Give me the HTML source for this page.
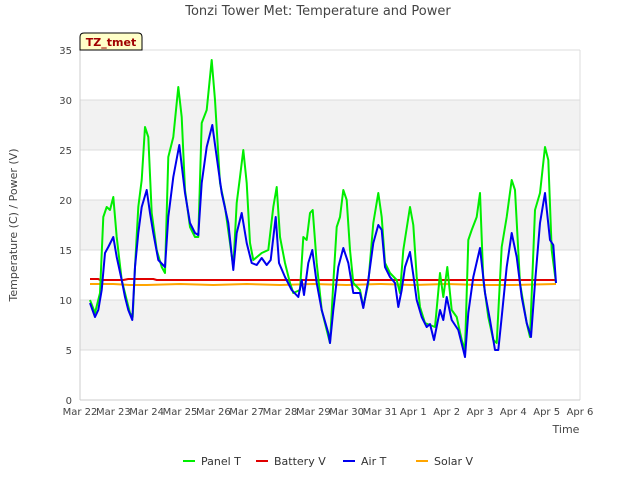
<!DOCTYPE html>
<html><head><meta charset="utf-8"><style>
body{margin:0;background:#fff;font-family:"Liberation Sans","DejaVu Sans",sans-serif}
</style></head><body>
<svg id="chart" width="640" height="480" viewBox="0 0 640 480" xmlns="http://www.w3.org/2000/svg" style="font-family:'DejaVu Sans','Liberation Sans',sans-serif">
<g id="bands"></g><g id="grid"></g><g id="axes"></g><g id="series"></g>
<text x="318" y="15" text-anchor="middle" font-size="13" fill="#444">Tonzi Tower Met: Temperature and Power</text>
<text transform="translate(17,225) rotate(-90)" text-anchor="middle" font-size="11" fill="#444">Temperature (C) / Power (V)</text>
<text x="566" y="433" text-anchor="middle" font-size="11" fill="#444">Time</text>
<g><path d="M80,50 L80,37 Q80,33 84,33 L138,33 Q142,33 142,37 L142,50 Z" fill="#ffffc8" stroke="#000"/><text x="111" y="46" text-anchor="middle" font-size="11" font-weight="bold" fill="#a00000">TZ_tmet</text></g>
<g id="legend"></g>
</svg>
<script>
const yTicks=[0,5,10,15,20,25,30,35];
const xTickLabels=["Mar 22","Mar 23","Mar 24","Mar 25","Mar 26","Mar 27","Mar 28","Mar 29","Mar 30","Mar 31","Apr 1","Apr 2","Apr 3","Apr 4","Apr 5","Apr 6"];
const panelDays=[0.30,0.45,0.60,0.70,0.80,0.90,1.00,1.10,1.25,1.40,1.50,1.58,1.65,1.75,1.85,1.95,2.05,2.15,2.30,2.45,2.55,2.65,2.80,2.95,3.05,3.15,3.30,3.45,3.55,3.65,3.80,3.95,4.05,4.20,4.35,4.50,4.60,4.70,4.80,4.90,5.00,5.10,5.20,5.45,5.65,5.80,5.90,6.00,6.15,6.30,6.40,6.60,6.70,6.80,6.90,6.98,7.10,7.25,7.40,7.50,7.60,7.70,7.80,7.90,8.00,8.10,8.20,8.40,8.50,8.65,8.80,8.95,9.05,9.15,9.30,9.50,9.60,9.70,9.90,10.00,10.10,10.20,10.35,10.50,10.65,10.80,10.90,11.02,11.15,11.30,11.45,11.55,11.65,11.75,11.90,12.00,12.10,12.25,12.40,12.50,12.65,12.80,12.95,13.05,13.20,13.40,13.50,13.65,13.80,13.95,14.05,14.15,14.28];
const panelT=[10,8.7,10.7,18.3,19.3,19,20.3,16.3,12,10,8.7,8.3,13.3,19.3,22,27.3,26.3,18.7,15,13.3,12.7,24.3,26.3,31.3,28.3,21,17.3,16.3,16.3,27.7,29,34,30,21.7,19.3,15.7,13.3,19.7,22.3,25,21.7,15.7,14,14.7,15,19.3,21.3,16.3,13.7,11.7,10.7,11,16.3,16,18.7,19,13.7,9,7,5.7,11.7,17.3,18.3,21,20,15,11.7,11,9.3,11.7,17.7,20.7,18.3,13.7,12.7,12,10.7,15,19.3,17.5,12.3,9.3,7.7,7.5,7.3,12.7,10.3,13.3,9,8.3,6,5,16,17,18.3,20.7,12,8.3,6,5.7,15.3,18.3,22,21,11.7,7.7,6.3,19,20.7,25.3,24,15,11.7];
const airDays=[0.30,0.45,0.55,0.65,0.75,0.85,1.00,1.10,1.25,1.35,1.45,1.57,1.65,1.75,1.85,2.00,2.10,2.20,2.35,2.55,2.65,2.80,2.98,3.15,3.30,3.45,3.55,3.65,3.80,3.97,4.10,4.25,4.45,4.60,4.70,4.85,5.00,5.15,5.30,5.45,5.60,5.72,5.87,5.97,6.15,6.35,6.55,6.65,6.72,6.85,6.97,7.10,7.25,7.45,7.50,7.60,7.75,7.90,8.05,8.20,8.40,8.50,8.65,8.80,8.95,9.05,9.15,9.30,9.45,9.55,9.65,9.75,9.90,10.00,10.10,10.25,10.40,10.50,10.62,10.80,10.90,11.00,11.15,11.35,11.50,11.55,11.65,11.80,12.00,12.15,12.30,12.45,12.55,12.65,12.80,12.95,13.10,13.25,13.40,13.53,13.65,13.80,13.95,14.10,14.20,14.28];
const airT=[9.7,8.3,9,11,14.7,15.3,16.3,14.3,12,10.3,9,8,13.3,16.7,19.3,21,18.7,16.7,14,13.3,18.3,22.3,25.5,20.7,17.7,16.7,16.5,21.7,25.3,27.5,24.3,20.7,17.7,13,16.7,18.7,15.7,13.7,13.5,14.2,13.5,14,18.3,13.7,12.3,11,10.3,12,10.5,13.7,15,11.7,9,6.7,5.7,9,13.3,15.2,13.7,10.7,10.7,9.2,12,15.7,17.5,17,13.3,12.3,11.7,9.3,11,13.3,14.8,12.5,10,8.3,7.3,7.6,6,9,8,10.3,8,7,5,4.3,8.7,12.3,15.2,10.7,8,5,5,8.3,13.3,16.7,14.3,10.3,7.7,6.3,11.7,17.7,20.7,16,15.5,11.7];
const batteryDays=[0.30,0.55,0.60,1.30,1.45,2.20,2.30,14.28];
const batteryV=[12.1,12.1,12.0,12.0,12.1,12.1,12.0,12.0];
const solarDays=[0.30,1.0,1.5,2.0,3.0,4.0,5.0,6.0,7.0,8.0,9.0,10.0,11.0,12.0,13.0,14.28];
const solarV=[11.6,11.6,11.5,11.5,11.6,11.5,11.6,11.5,11.6,11.5,11.6,11.5,11.6,11.5,11.5,11.6];

const L=80,R=580,T=50,B=400,NS="http://www.w3.org/2000/svg";
const xs=d=>L+d*(R-L)/15, ys=v=>B-v*(B-T)/35;
function mk(tag,attrs,parent){const e=document.createElementNS(NS,tag);for(const k in attrs)e.setAttribute(k,attrs[k]);parent.appendChild(e);return e;}
const bands=document.getElementById('bands'),grid=document.getElementById('grid'),axes=document.getElementById('axes'),series=document.getElementById('series'),legend=document.getElementById('legend');
mk('rect',{x:L,y:T,width:R-L,height:B-T,fill:'#fff'},bands);
[[5,10],[15,20],[25,30]].forEach(b=>{const r=mk('rect',{x:L,y:ys(b[1]),width:R-L,height:ys(b[0])-ys(b[1]),fill:'#f2f2f2'},bands);

});
yTicks.forEach(v=>{const l=mk('line',{x1:L,x2:R,y1:ys(v),y2:ys(v),stroke:'#dcdcdc'},grid);


const t=mk('text',{x:L-8,y:ys(v)+4,'text-anchor':'end','font-size':'10',fill:'#444'},axes);t.textContent=v;

});
mk('line',{x1:L,x2:L,y1:T,y2:B,stroke:'#ccc'},axes);
mk('line',{x1:R,x2:R,y1:T,y2:B,stroke:'#ddd'},axes);
mk('line',{x1:L,x2:R,y1:B,y2:B,stroke:'#ccc'},axes);
xTickLabels.forEach((s,i)=>{const t=mk('text',{x:xs(i),y:B+15,'text-anchor':'middle','font-size':'10',fill:'#444'},axes);t.textContent=s;

});
function line(days,vals,color,name){const d=days.map((x,i)=>(i?'L':'M')+xs(x).toFixed(1)+','+ys(vals[i]).toFixed(1)).join('');
const p=mk('path',{d:d,fill:'none',stroke:color,'stroke-width':'2','stroke-linejoin':'round'},series);

}
line(batteryDays,batteryV,'#e00000','battery-v-line');
line(solarDays,solarV,'#ffa500','solar-v-line');
line(panelDays,panelT,'#00ee00','panel-t-line');
line(airDays,airT,'#0000ee','air-t-line');
const leg=[['Panel T','#00ee00',183],['Battery V','#e00000',256],['Air T','#0000ee',343],['Solar V','#ffa500',416]];
leg.forEach(e=>{const g=mk('g',{},legend);


mk('line',{x1:e[2],x2:e[2]+12,y1:461,y2:461,stroke:e[1],'stroke-width':'2'},g);
const t=mk('text',{x:e[2]+18,y:465,'font-size':'11',fill:'#333'},g);t.textContent=e[0];});
</script>
</body></html>
